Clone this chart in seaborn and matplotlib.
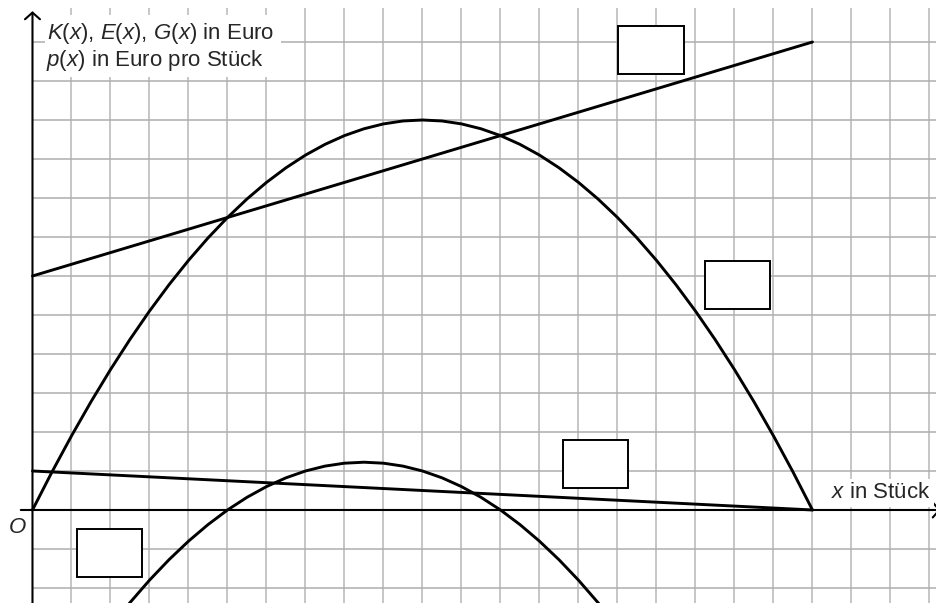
import numpy as np
import pandas as pd
import matplotlib
matplotlib.use("Agg")
import matplotlib.pyplot as plt
from matplotlib.patches import Rectangle
import seaborn as sns

# ---- data (1 grid cell = 1 unit) ----
x_E = [0, 0.5, 1, 1.5, 2, 2.5, 3, 3.5, 4, 4.5, 5, 5.5, 6, 6.5, 7, 7.5, 8, 8.5, 9, 9.5,
       10, 10.5, 11, 11.5, 12, 12.5, 13, 13.5, 14, 14.5, 15, 15.5, 16, 16.5, 17, 17.5,
       18, 18.5, 19, 19.5, 20]
E_vals = [0, 0.975, 1.9, 2.775, 3.6, 4.375, 5.1, 5.775, 6.4, 6.975, 7.5, 7.975, 8.4,
          8.775, 9.1, 9.375, 9.6, 9.775, 9.9, 9.975, 10, 9.975, 9.9, 9.775, 9.6,
          9.375, 9.1, 8.775, 8.4, 7.975, 7.5, 6.975, 6.4, 5.775, 5.1, 4.375, 3.6,
          2.775, 1.9, 0.975, 0]

x_K = [0, 20]
K_vals = [6, 12]

x_G = [2, 2.5, 3, 3.5, 4, 4.5, 5, 5.5, 6, 6.5, 7, 7.5, 8, 8.5, 9, 9.5, 10, 10.5, 11,
       11.5, 12, 12.5, 13, 13.5, 14, 14.5, 15]
G_vals = [-3.0, -2.375, -1.8, -1.275, -0.8, -0.375, 0, 0.325, 0.6, 0.825, 1.0, 1.125,
          1.2, 1.225, 1.2, 1.125, 1.0, 0.825, 0.6, 0.325, 0, -0.375, -0.8, -1.275,
          -1.8, -2.375, -3.0]

x_p = [0, 20]
p_vals = [1, 0]

y_label_1 = r"$K$($x$), $E$($x$), $G$($x$) in Euro"
y_label_2 = r"$p$($x$) in Euro pro Stück"
x_label = r"$x$ in Stück"
origin_label = r"$O$"

# ---- style ----
sns.set_style("white")
plt.rcParams["font.family"] = ["Liberation Sans", "DejaVu Sans"]
plt.rcParams["mathtext.fontset"] = "custom"
plt.rcParams["mathtext.rm"] = "Liberation Sans"
plt.rcParams["mathtext.it"] = "Liberation Sans:italic"

XMIN, XMAX = -0.833, 23.167
YMIN, YMAX = -2.385, 13.077
GRID_TOP = 12.87
FS = 16

fig = plt.figure(figsize=(9.36, 6.03), dpi=100)
ax = fig.add_axes([0, 0, 1, 1])

ax.vlines(np.arange(1, 24), YMIN, GRID_TOP, color="#c2c2c2", lw=1.3, zorder=1)
ax.hlines(np.arange(-2, 13), 0, XMAX, color="#adadad", lw=1.1, zorder=1)

# label background
ax.add_patch(Rectangle((0.32, 11.1), 6.05, 1.59, facecolor="white",
                       edgecolor="none", zorder=2))

# curves
for xs, ys in [(x_E, E_vals), (x_K, K_vals), (x_G, G_vals), (x_p, p_vals)]:
    df = pd.DataFrame({"x": xs, "y": ys})
    sns.lineplot(data=df, x="x", y="y", ax=ax, color="black", lw=2.1,
                 sort=False, estimator=None, zorder=4)
ax.set_xlim(XMIN, XMAX)
ax.set_ylim(YMIN, YMAX)
ax.axis("off")

# axes with arrows
arrow_style = "->,head_length=0.4,head_width=0.45"
ax.annotate("", xy=(0, 12.79), xytext=(0, YMIN - 0.2), annotation_clip=False,
            arrowprops=dict(arrowstyle=arrow_style, color="black", lw=1.5,
                            mutation_scale=12, shrinkA=0, shrinkB=0), zorder=5)
ax.annotate("", xy=(23.29, 0), xytext=(-0.3, 0), annotation_clip=False,
            arrowprops=dict(arrowstyle=arrow_style, color="black", lw=1.5,
                            mutation_scale=12, shrinkA=0, shrinkB=0), zorder=5)

# empty answer boxes
for (bx, by) in [(15.02, 11.17), (17.24, 5.15), (13.6, 0.56), (1.13, -1.71)]:
    ax.add_patch(Rectangle((bx, by), 1.68, 1.23, facecolor="white",
                           edgecolor="black", lw=1.4, zorder=6))

# texts
ax.text(0.37, 12.07, y_label_1, fontsize=FS, ha="left", va="baseline", zorder=7)
ax.text(0.35, 11.38, y_label_2, fontsize=FS, ha="left", va="baseline", zorder=7)
ax.text(20.48, 0.30, x_label, fontsize=FS, ha="left", va="baseline", zorder=7,
        bbox=dict(facecolor="white", edgecolor="none", boxstyle="square,pad=0.15"))
ax.text(-0.39, -0.45, origin_label, fontsize=FS, ha="center", va="center", zorder=7)

fig.savefig("out.png", dpi=100)
